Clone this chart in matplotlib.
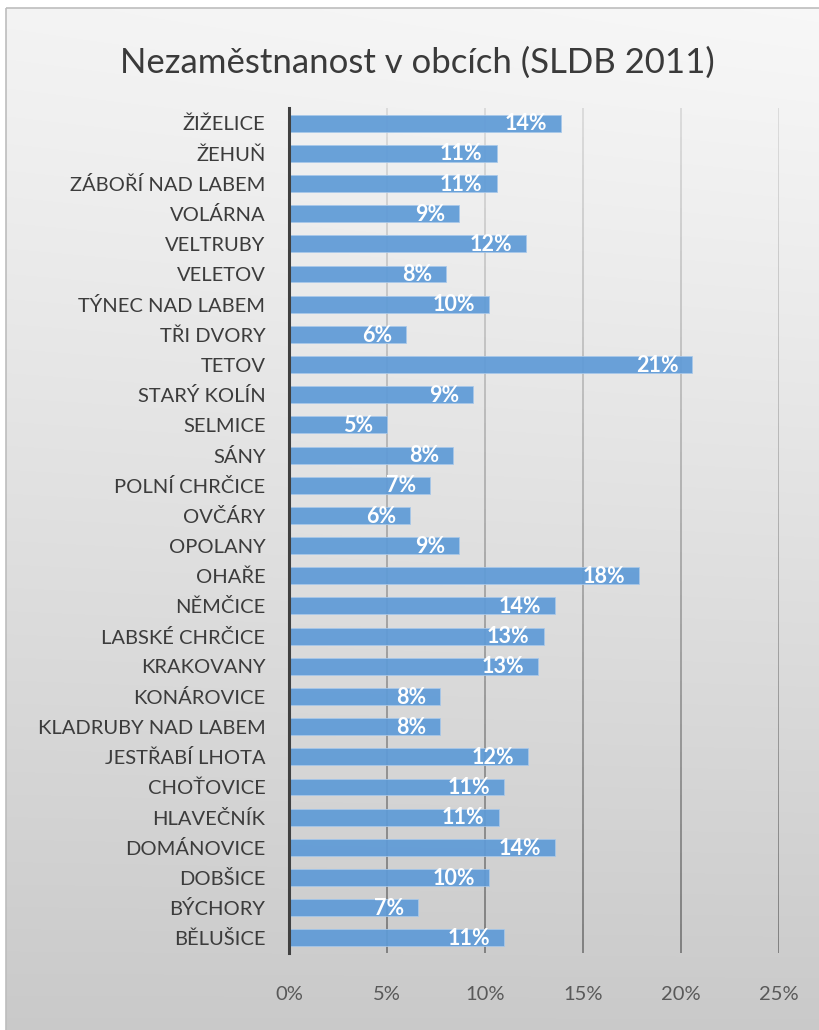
import numpy as np
import matplotlib
matplotlib.use("Agg")
import matplotlib.pyplot as plt
from matplotlib.collections import LineCollection
from matplotlib.patches import Rectangle
from matplotlib.ticker import MultipleLocator, PercentFormatter

plt.rcParams["font.family"] = ["Lato", "DejaVu Sans"]

# Data (top to bottom as shown in the chart)
obce = [
    "ŽIŽELICE", "ŽEHUŇ", "ZÁBOŘÍ NAD LABEM", "VOLÁRNA", "VELTRUBY", "VELETOV",
    "TÝNEC NAD LABEM", "TŘI DVORY", "TETOV", "STARÝ KOLÍN", "SELMICE", "SÁNY",
    "POLNÍ CHRČICE", "OVČÁRY", "OPOLANY", "OHAŘE", "NĚMČICE", "LABSKÉ CHRČICE",
    "KRAKOVANY", "KONÁROVICE", "KLADRUBY NAD LABEM", "JESTŘABÍ LHOTA",
    "CHOŤOVICE", "HLAVEČNÍK", "DOMÁNOVICE", "DOBŠICE", "BÝCHORY", "BĚLUŠICE",
]
nezamestnanost = [
    13.9, 10.6, 10.6, 8.7, 12.1, 8.0,
    10.2, 6.0, 20.6, 9.4, 5.0, 8.4,
    7.2, 6.2, 8.7, 17.9, 13.6, 13.0,
    12.7, 7.7, 7.7, 12.2,
    11.0, 10.7, 13.6, 10.2, 6.6, 11.0,
]
titulek = "Nezaměstnanost v obcích (SLDB 2011)"

W, H = 819, 1030
fig = plt.figure(figsize=(W / 100, H / 100), dpi=100, facecolor="white")

# background of the chart box: light gradient, white on top, gray at bottom
bg = fig.add_axes([0, 0, 1, 1], zorder=-10)
bg.set_xlim(0, W)
bg.set_ylim(H, 0)
bg.axis("off")
rows = np.linspace(0, 1, 256)[:, None]
cols = np.linspace(0, 1, 64)[None, :]
shade = 0.955 - 0.165 * rows ** 1.1 + 0.015 * cols * (1 - rows)
bg.imshow(np.dstack([shade] * 3), extent=[6, W + 2, H + 2, 8],
          aspect="auto", interpolation="bilinear")
bg.add_patch(Rectangle((6, 8), W, H, fill=False, ec="#bdbdbd", lw=1.2))

fig.text(417 / W, 1 - 63 / H, titulek, ha="center", va="center",
         fontsize=25, color="#3a3a3a")

ax = fig.add_axes([289 / W, 1 - 953 / H, (778.5 - 289) / W, (953 - 108) / H])
ax.patch.set_alpha(0)

y = np.arange(len(obce))
ax.barh(y, nezamestnanost, height=0.56, color="#5f9bd7", edgecolor="#a8c8ea",
        linewidth=0.6, alpha=0.93, zorder=3)
ax.set_ylim(len(obce) - 0.5, -0.5)
ax.set_xlim(0, 25)
ax.xaxis.set_major_locator(MultipleLocator(5))
ax.xaxis.set_major_formatter(PercentFormatter(decimals=0))
ax.set_yticks(y, obce)

for s in ["top", "right", "bottom"]:
    ax.spines[s].set_visible(False)
ax.spines["left"].set_color("#404040")
ax.spines["left"].set_linewidth(2.2)
ax.spines["left"].set_zorder(6)

ax.tick_params(axis="y", length=0, pad=17, labelsize=14.5, labelcolor="#3c3c3c")
ax.tick_params(axis="x", length=0, pad=24, labelsize=14.5, labelcolor="#595959")

# vertical gridlines, lighter at top and darker at bottom
ylo, yhi = ax.get_ylim()
ys = np.linspace(yhi, ylo, 60)
top_c = np.array([0.86, 0.86, 0.86])
bot_c = np.array([0.50, 0.50, 0.50])
for xv in ax.get_xticks():
    if xv <= 0 or xv > 25:
        continue
    segs = [[(xv, ys[i]), (xv, ys[i + 1])] for i in range(len(ys) - 1)]
    t = np.linspace(0, 1, len(segs))[:, None]
    lc = LineCollection(segs, colors=top_c * (1 - t) + bot_c * t, linewidths=1.4, zorder=2)
    ax.add_collection(lc)

for yi, v in zip(y, nezamestnanost):
    ax.annotate(f"{round(v)}%", xy=(v, yi), xytext=(-10, -0.5), textcoords="offset points",
                ha="right", va="center", color="white", fontweight="bold",
                fontsize=15.5, zorder=5)

fig.savefig("out.png", dpi=100)
